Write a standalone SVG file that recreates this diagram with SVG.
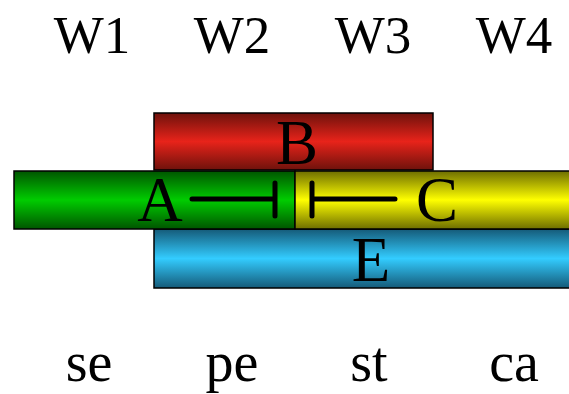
<svg xmlns="http://www.w3.org/2000/svg" width="569" height="394" viewBox="0 0 569 394">
<style>
.bar{stroke:#000;stroke-width:1.5}
.t{font-family:"Liberation Serif","Times New Roman",serif;text-anchor:middle;fill:#000}
.w{font-size:53px}
.s{font-size:56px}
.l{font-size:63px}
.inh{stroke:#000;stroke-width:5;stroke-linecap:round;fill:none}
</style>
<defs>
<linearGradient id="gr" x1="0" y1="0" x2="0" y2="1"><stop offset="0" stop-color="#6e120c"/><stop offset="0.5" stop-color="#e8231a"/><stop offset="1" stop-color="#6e120c"/></linearGradient>
<linearGradient id="gg" x1="0" y1="0" x2="0" y2="1"><stop offset="0" stop-color="#005500"/><stop offset="0.5" stop-color="#00cc00"/><stop offset="1" stop-color="#005500"/></linearGradient>
<linearGradient id="gy" x1="0" y1="0" x2="0" y2="1"><stop offset="0" stop-color="#6e6e00"/><stop offset="0.5" stop-color="#ffff00"/><stop offset="1" stop-color="#6e6e00"/></linearGradient>
<linearGradient id="gc" x1="0" y1="0" x2="0" y2="1"><stop offset="0" stop-color="#155a78"/><stop offset="0.5" stop-color="#33ccff"/><stop offset="1" stop-color="#155a78"/></linearGradient>
</defs>
<g id="labels">
<text class="t w" x="92" y="53">W1</text>
<text class="t w" x="232" y="53">W2</text>
<text class="t w" x="373" y="53">W3</text>
<text class="t w" x="514" y="53">W4</text>
<text class="t s" x="89" y="381">se</text>
<text class="t s" x="232" y="381">pe</text>
<text class="t s" x="369" y="381">st</text>
<text class="t s" x="514" y="381">ca</text>
</g>
<g id="B"><rect class="bar" x="154" y="113" width="279" height="57" fill="url(#gr)"/><text class="t l" x="297" y="164">B</text></g>
<g id="E"><rect class="bar" x="154" y="229" width="420" height="59" fill="url(#gc)"/><text class="t l" x="371" y="281">E</text></g>
<g id="A"><rect class="bar" x="14" y="171" width="281" height="58" fill="url(#gg)"/><text class="t l" x="160" y="221">A</text></g>
<g id="C"><rect class="bar" x="295" y="171" width="279" height="58" fill="url(#gy)"/><text class="t l" x="437" y="221">C</text></g>
<g id="connectors">
<path class="inh" d="M192 199H275M275 183V216"/>
<path class="inh" d="M395 199H312M312 183V216"/>
</g>
</svg>
